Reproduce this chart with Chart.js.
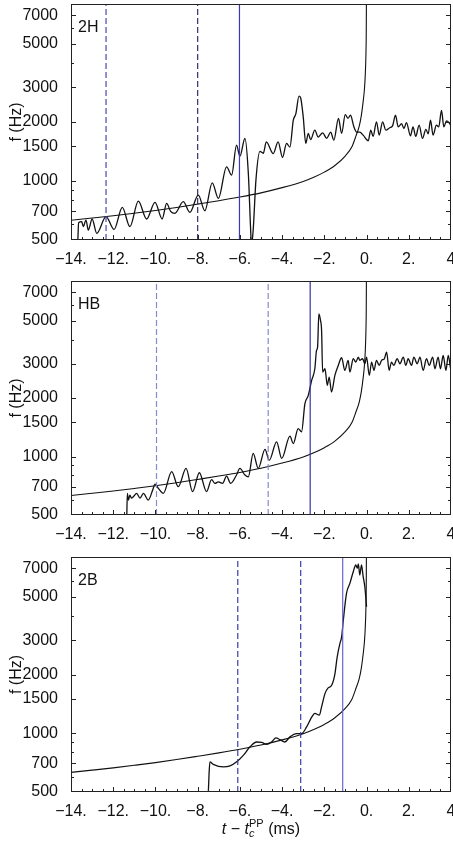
<!DOCTYPE html>
<html>
<head>
<meta charset="utf-8">
<script src="https://cdn.jsdelivr.net/npm/chart.js@4.4.1/dist/chart.umd.min.js"></script>
<style>
  html, body { margin: 0; padding: 0; background: #fff; }
  #wrap { position: relative; width: 453px; height: 846px; overflow: hidden; font-family: "Liberation Sans", Arial, sans-serif; }
  canvas { position: absolute; left: 0; }
  #xlab { position: absolute; left: 71px; width: 380px; top: 818px; text-align: center; font-size: 16px; color: #111; }
  #xlab .sx { display: inline-block; vertical-align: -3px; line-height: 10px; text-align: left; font-size: 11px; }
</style>
</head>
<body>
<div id="wrap">
  <canvas id="p1" width="453" height="270" style="top:0px"></canvas>
  <canvas id="p2" width="453" height="268" style="top:277px"></canvas>
  <canvas id="p3" width="453" height="269" style="top:553px"></canvas>
  <div id="xlab"><i>t</i> &minus; <i>t</i><span class="sx">PP<br><i>c</i></span> (ms)</div>
</div>
<script>
// axis ticks
const xTicks = [-14, -12, -10, -8, -6, -4, -2, 0, 2, 4];
const xTickLabels = ['\u221214.', '\u221212.', '\u221210.', '\u22128.', '\u22126.', '\u22124.', '\u22122.', '0.', '2.', '4'];
const yTicks = [500, 700, 1000, 1500, 2000, 3000, 5000, 7000];
const yTickLabels = ['500', '700', '1000', '1500', '2000', '3000', '5000', '7000'];
const yMinor = [600, 800, 900, 4000, 6000];
const yMin = 500, yMax = 8000;

// point-particle (PP) frequency, same in every panel
const ppT = [-14, -13, -12, -11, -10, -9, -8, -7, -6, -5, -4, -3, -2.5, -2, -1.5, -1, -0.7, -0.5, -0.35, -0.25, -0.15, -0.1, -0.06, -0.03, -0.015, -0.005];
const ppF = [630, 647, 665, 685, 707, 733, 762, 793, 828, 870, 925, 995, 1045, 1110, 1200, 1345, 1490, 1700, 1900, 2150, 2600, 2950, 3500, 4400, 5600, 9000];

// 2H
const t2H = [-13.68, -13.64, -13.49, -13.42, -13.29, -13.18, -13.0, -12.78, -12.34, -11.96, -11.57, -11.21, -10.81, -10.42, -10.02, -9.68, -9.47, -9.28, -9.08, -8.68, -8.37, -7.97, -7.66, -7.31, -7.02, -6.63, -6.39, -6.16, -6.0, -5.76, -5.6, -5.49, -5.45, -5.37, -5.24, -5.05, -4.89, -4.75, -4.42, -4.19, -3.98, -3.79, -3.63, -3.47, -3.35, -3.2, -3.12, -3.0, -2.88, -2.76, -2.65, -2.45, -2.29, -2.08, -1.89, -1.7, -1.55, -1.33, -1.18, -1.01, -0.88, -0.76, -0.6, -0.47, -0.32, -0.16, 0.08, 0.2, 0.31, 0.47, 0.6, 0.76, 0.91, 1.1, 1.23, 1.37, 1.5, 1.66, 1.77, 1.89, 2.08, 2.2, 2.33, 2.49, 2.65, 2.81, 2.92, 3.03, 3.15, 3.31, 3.42, 3.55, 3.66, 3.79, 3.94, 4.0];
const f2H = [480, 613, 620, 585, 632, 562, 640, 541, 658, 566, 734, 585, 790, 640, 778, 640, 768, 700, 684, 784, 692, 848, 705, 978, 815, 1181, 1072, 1523, 1338, 1648, 1093, 562, 470, 562, 1010, 1415, 1385, 1585, 1380, 1585, 1318, 1555, 1490, 2043, 2200, 2710, 2650, 2125, 1555, 1750, 1625, 1818, 1675, 1760, 1650, 1775, 1616, 2085, 1750, 2180, 2090, 2165, 1890, 1775, 1775, 1714, 1605, 1818, 1690, 2005, 1714, 2005, 1818, 1870, 1910, 2165, 1890, 1960, 1850, 1985, 1700, 1890, 1690, 1927, 1650, 1835, 1740, 2043, 1714, 1927, 1890, 2290, 1890, 2025, 1960, 1900];

// HB
const tHB = [-11.36, -11.33, -11.28, -11.21, -11.13, -11.05, -10.89, -10.73, -10.57, -10.34, -10.13, -10.02, -9.86, -9.63, -9.23, -8.92, -8.55, -8.24, -7.92, -7.58, -7.34, -7.18, -7.02, -6.82, -6.63, -6.44, -6.16, -6.0, -5.76, -5.6, -5.37, -5.13, -4.81, -4.61, -4.26, -4.02, -3.63, -3.47, -3.24, -3.08, -2.92, -2.76, -2.6, -2.45, -2.37, -2.32, -2.26, -2.18, -2.13, -2.08, -1.97, -1.86, -1.77, -1.66, -1.5, -1.34, -1.18, -1.03, -0.87, -0.79, -0.63, -0.51, -0.39, -0.32, -0.19, -0.08, 0.0, 0.13, 0.24, 0.35, 0.47, 0.6, 0.71, 0.84, 0.95, 1.07, 1.18, 1.29, 1.45, 1.58, 1.74, 1.86, 1.97, 2.13, 2.24, 2.4, 2.53, 2.68, 2.84, 2.97, 3.13, 3.24, 3.39, 3.5, 3.63, 3.76, 3.87, 3.98];
const fHB = [480, 646, 597, 633, 610, 621, 646, 610, 646, 597, 672, 721, 685, 646, 835, 699, 868, 660, 825, 660, 760, 727, 740, 727, 793, 727, 803, 868, 803, 786, 1037, 868, 1087, 957, 1189, 977, 1272, 1166, 1392, 1339, 1871, 2064, 2465, 2829, 3513, 3655, 5420, 5008, 4450, 2720, 2829, 2323, 2563, 2147, 2614, 2943, 3222, 2774, 3122, 2720, 3184, 3061, 3246, 3122, 3184, 3001, 3246, 2614, 3061, 2774, 3122, 2943, 3122, 3184, 3444, 2774, 3061, 2943, 3184, 3001, 3246, 2943, 3184, 2943, 3246, 3001, 3246, 2774, 3184, 2943, 3246, 2829, 3246, 2829, 3310, 2774, 3310, 2829];

// 2B
const t2B = [-7.5, -7.46, -7.42, -7.26, -6.79, -6.47, -6.12, -5.84, -5.52, -5.21, -4.97, -4.73, -4.5, -4.29, -4.1, -3.87, -3.63, -3.31, -3.08, -2.84, -2.6, -2.45, -2.24, -2.13, -1.97, -1.82, -1.66, -1.5, -1.39, -1.26, -1.18, -1.1, -0.95, -0.79, -0.63, -0.51, -0.44, -0.39, -0.32, -0.24, -0.16, -0.08, 0.0];
const f2B = [480, 620, 713, 693, 672, 680, 718, 770, 852, 902, 897, 877, 902, 946, 927, 902, 958, 995, 995, 1077, 1209, 1263, 1238, 1365, 1596, 1709, 1757, 2011, 2465, 2886, 3115, 3801, 5209, 5863, 6726, 7280, 7000, 7380, 6470, 7280, 6350, 5600, 4450];

// reference times (ms)
const vl2H = [-12.34, -8.0, -6.02];
const vlHB = [-9.95, -4.66, -2.67];
const vl2B = [-6.1, -3.12, -1.13];

const FONT = '"Liberation Sans", Arial, sans-serif';

function pts(ts, fs){ return ts.map((t, i) => ({ x: t, y: fs[i] })); }

function vline(t, color, dashed){
  return {
    data: [{ x: t, y: yMin }, { x: t, y: yMax }],
    borderColor: color,
    borderWidth: 1.2,
    borderDash: dashed ? [6, 3] : [],
    pointRadius: 0,
    tension: 0
  };
}

// 枠と内向きの目盛り、パネル名
const framePlugin = {
  id: 'framePlugin',
  afterDraw(chart, args, opts){
    const { ctx, chartArea: a, scales } = chart;
    const xs = scales.x, ys = scales.y;
    ctx.save();
    ctx.strokeStyle = '#222';
    ctx.lineWidth = 1;
    ctx.strokeRect(Math.round(a.left) + 0.5, Math.round(a.top) + 0.5, Math.round(a.right - a.left) - 1, Math.round(a.bottom - a.top) - 1);
    ctx.beginPath();
    // y ticks on both sides
    yTicks.concat(yMinor).forEach(v => {
      const y = Math.round(ys.getPixelForValue(v)) + 0.5;
      if (y < a.top + 2 || y > a.bottom - 2) return;
      const len = yTicks.includes(v) ? 5 : 3;
      ctx.moveTo(a.left, y); ctx.lineTo(a.left + len, y);
      ctx.moveTo(a.right, y); ctx.lineTo(a.right - len, y);
    });
    // x ticks on the bottom
    for (let v = -14; v <= 4; v += 0.5) {
      const x = Math.round(xs.getPixelForValue(v)) + 0.5;
      if (x < a.left + 2 || x > a.right - 2) continue;
      const len = (v % 2 === 0) ? 5 : 3;
      ctx.moveTo(x, a.bottom); ctx.lineTo(x, a.bottom - len);
    }
    ctx.stroke();
    ctx.fillStyle = '#111';
    ctx.font = '16px ' + FONT;
    ctx.textBaseline = 'top';
    ctx.fillText(opts.label, a.left + 7, a.top + 16);
    ctx.restore();
  }
};

function buildPanel(id, label, ts, fs, vls, colors){
  const ctx = document.getElementById(id).getContext('2d');
  return new Chart(ctx, {
    type: 'line',
    data: {
      datasets: [
        vline(vls[0], colors[0], true),
        vline(vls[1], colors[1], true),
        vline(vls[2], colors[2], false),
        { data: pts(ppT, ppF), borderColor: '#111', borderWidth: 1.1, pointRadius: 0, cubicInterpolationMode: 'monotone' },
        { data: pts(ts, fs), borderColor: '#111', borderWidth: 1.3, pointRadius: 0, cubicInterpolationMode: 'monotone' }
      ]
    },
    options: {
      responsive: false,
      animation: false,
      devicePixelRatio: 1,
      layout: { padding: { top: 4, right: 2, left: 0, bottom: 0 } },
      plugins: { legend: { display: false }, tooltip: { enabled: false }, framePlugin: { label } },
      scales: {
        x: {
          type: 'linear', min: -14, max: 4,
          grid: { display: false },
          border: { display: false },
          afterBuildTicks(s){ s.ticks = xTicks.map(v => ({ value: v })); },
          afterFit(s){ s.height = 30; s.paddingLeft = 0; s.paddingRight = 0; },
          ticks: {
            autoSkip: false, maxRotation: 0, padding: 2, color: '#111',
            font: { family: FONT, size: 16 },
            callback: (v) => xTickLabels[xTicks.indexOf(v)]
          }
        },
        y: {
          type: 'logarithmic', min: yMin, max: yMax,
          grid: { display: false },
          border: { display: false },
          afterBuildTicks(s){ s.ticks = yTicks.map(v => ({ value: v })); },
          afterFit(s){ s.width = 71; s.paddingTop = 0; s.paddingBottom = 0; },
          title: { display: true, text: 'f (Hz)', color: '#111', font: { family: FONT, size: 16 }, padding: { top: 7, bottom: 0 } },
          ticks: {
            autoSkip: false, padding: 5, color: '#111',
            font: { family: FONT, size: 16 },
            callback: (v) => yTickLabels[yTicks.indexOf(v)]
          }
        }
      }
    },
    plugins: [framePlugin]
  });
}

buildPanel('p1', '2H', t2H, f2H, vl2H, ['#4848b0', '#30306c', '#3a3ab4']);
buildPanel('p2', 'HB', tHB, fHB, vlHB, ['#8888d0', '#8888d0', '#3434a4']);
buildPanel('p3', '2B', t2B, f2B, vl2B, ['#3c3ca8', '#3c3ca8', '#6464d4']);
</script>
</body>
</html>
